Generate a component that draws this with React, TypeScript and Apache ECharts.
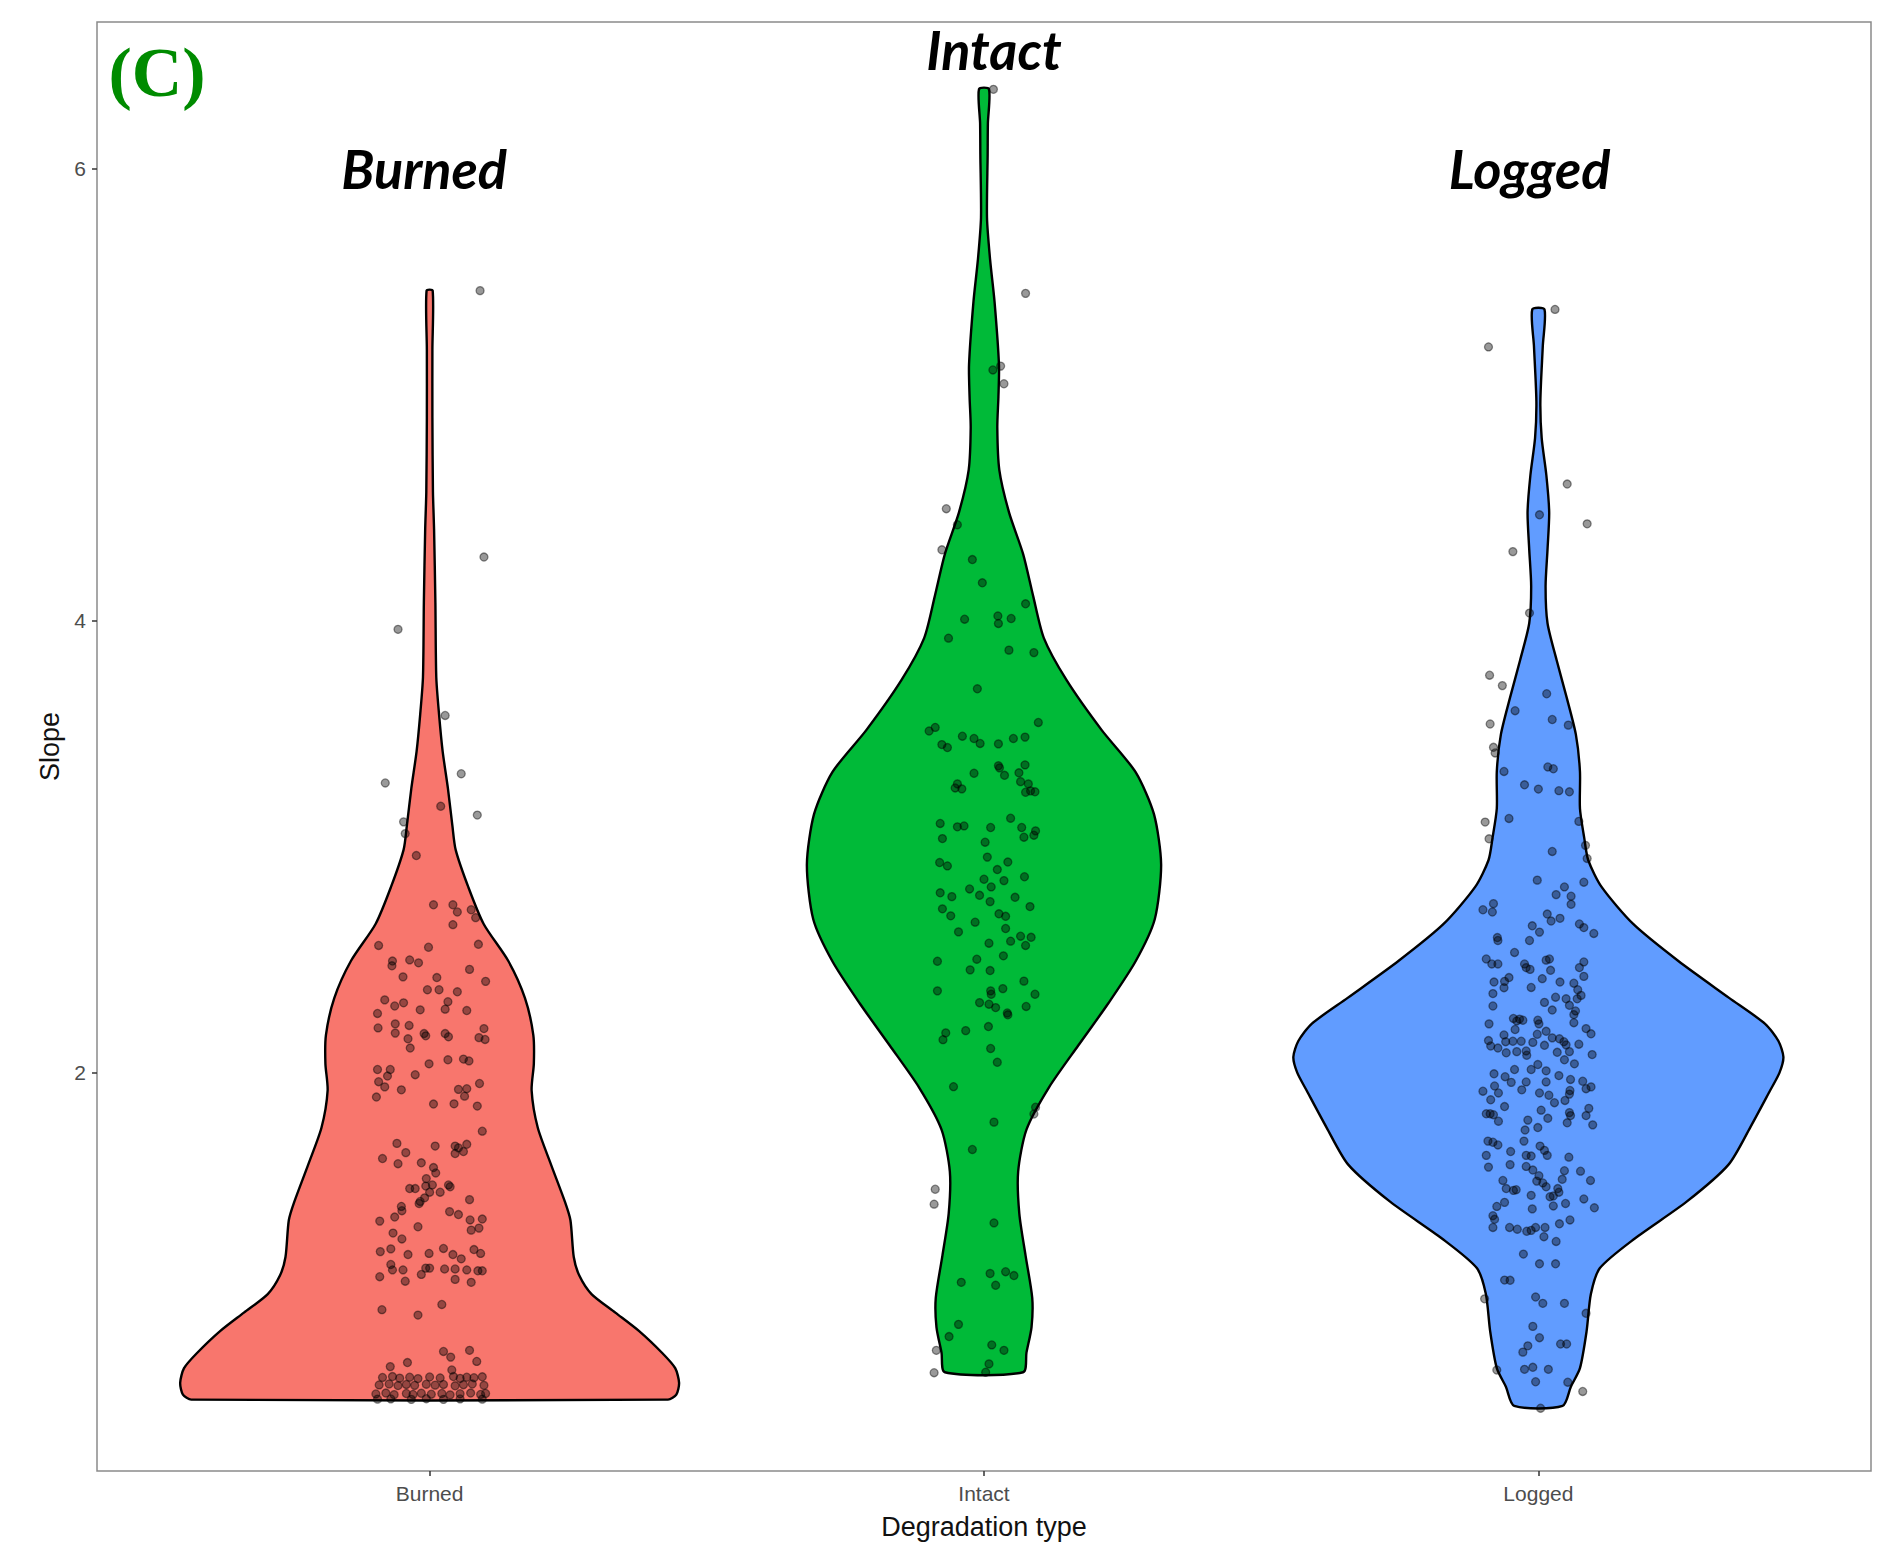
import React, { useEffect, useRef } from "react";
import * as echarts from "echarts";

// ---------- data ----------
const CATEGORIES = ["Burned", "Intact", "Logged"];
const Y_TICKS = [2, 4, 6];
const COLORS = ["#F8766D", "#00BA38", "#619CFF"];

// violin outlines: [slope, half-width in category units]
const VIOLIN_BURNED: [number, number][] = [
  [5.461, 0.0055], [5.2, 0.005], [4.9, 0.005], [4.57, 0.006], [4.406, 0.008], [4.08, 0.0104],
  [3.75, 0.012], [3.586, 0.017], [3.422, 0.0235], [3.258, 0.033], [3.094, 0.041], [2.986, 0.047],
  [2.82, 0.07], [2.658, 0.0975], [2.494, 0.142], [2.33, 0.172], [2.167, 0.187], [2.04, 0.188],
  [1.921, 0.184], [1.757, 0.195], [1.593, 0.219], [1.429, 0.244], [1.347, 0.254], [1.184, 0.26],
  [1.102, 0.27], [1.02, 0.292], [0.938, 0.335], [0.856, 0.378], [0.758, 0.42], [0.692, 0.443],
  [0.627, 0.45], [0.575, 0.445], [0.553, 0.43],
];
const VIOLIN_INTACT: [number, number][] = [
  [6.353, 0.009], [6.2, 0.007], [6.064, 0.0066], [5.785, 0.0054], [5.598, 0.011], [5.412, 0.019],
  [5.133, 0.027], [4.99, 0.026], [4.854, 0.024], [4.668, 0.0276], [4.481, 0.045], [4.295, 0.0706],
  [4.109, 0.0887], [3.923, 0.108], [3.737, 0.149], [3.517, 0.212], [3.33, 0.2735], [3.144, 0.3066],
  [2.921, 0.3195], [2.679, 0.308], [2.493, 0.2735], [2.306, 0.224], [2.12, 0.17], [1.934, 0.117],
  [1.748, 0.0766], [1.562, 0.0616], [1.376, 0.0637], [1.19, 0.075], [1.003, 0.087], [0.873, 0.0857],
  [0.761, 0.0766], [0.674, 0.0706],
];
const VIOLIN_LOGGED: [number, number][] = [
  [5.378, 0.011], [5.217, 0.008], [4.972, 0.0036], [4.808, 0.006], [4.644, 0.0144], [4.48, 0.0195],
  [4.316, 0.0165], [4.152, 0.013], [3.989, 0.0165], [3.825, 0.033], [3.661, 0.051], [3.497, 0.0676],
  [3.333, 0.075], [3.169, 0.075], [3.039, 0.0827], [2.94, 0.09], [2.822, 0.114], [2.658, 0.171],
  [2.494, 0.2525], [2.331, 0.344], [2.216, 0.409], [2.14, 0.433], [2.069, 0.442], [2.0, 0.435],
  [1.921, 0.418], [1.757, 0.382], [1.593, 0.343], [1.429, 0.2675], [1.266, 0.174], [1.135, 0.111],
  [1.02, 0.0947], [0.856, 0.087], [0.692, 0.075], [0.61, 0.0586], [0.525, 0.0436],
];

// jittered observations: [offset from category centre, slope]
const POINTS_BURNED: [number, number][] = [
  [0.091, 5.461], [0.098, 4.282], [-0.057, 3.962], [0.028, 3.581], [0.057, 3.323], [-0.08, 3.282],
  [0.02, 3.179], [0.086, 3.14], [-0.047, 3.11], [-0.044, 3.058],
  [-0.024, 2.961], [0.007, 2.743], [0.042, 2.743], [0.05, 2.711], [0.075, 2.721], [0.083, 2.686],
  [0.042, 2.655], [-0.092, 2.563], [-0.002, 2.555], [0.088, 2.568], [-0.067, 2.494], [-0.068, 2.473],
  [-0.036, 2.499], [-0.02, 2.486], [0.072, 2.457], [-0.048, 2.424], [0.013, 2.421], [0.101, 2.404],
  [-0.004, 2.367], [0.017, 2.367], [0.05, 2.358], [-0.081, 2.322], [-0.063, 2.295], [-0.047, 2.309],
  [-0.017, 2.278], [0.033, 2.314], [0.028, 2.281], [0.067, 2.275], [-0.094, 2.262], [-0.093, 2.198],
  [-0.062, 2.216], [-0.062, 2.175], [-0.037, 2.209], [-0.039, 2.15], [-0.035, 2.109], [-0.01, 2.173],
  [-0.007, 2.163], [0.028, 2.173], [0.034, 2.159], [0.089, 2.155], [0.098, 2.195], [0.1, 2.147],
  [-0.001, 2.039], [0.033, 2.057], [0.061, 2.06], [0.071, 2.052], [-0.094, 2.014], [-0.071, 2.014],
  [-0.092, 1.96], [-0.076, 1.985], [-0.081, 1.937], [-0.096, 1.892], [-0.026, 1.991], [-0.051, 1.924],
  [0.052, 1.926], [0.067, 1.929], [0.063, 1.896], [0.09, 1.952], [0.007, 1.861], [0.044, 1.862],
  [0.086, 1.852], [0.095, 1.741], [-0.059, 1.687], [-0.043, 1.646], [-0.085, 1.62], [-0.057, 1.597],
  [0.01, 1.675], [0.046, 1.675], [0.052, 1.667], [0.067, 1.683], [0.046, 1.642], [0.061, 1.651],
  [-0.015, 1.601], [0.007, 1.58], [0.011, 1.556], [-0.006, 1.531], [-0.007, 1.498], [-0.036, 1.487],
  [-0.026, 1.487], [0.005, 1.503], [0.0, 1.471], [0.019, 1.471], [0.037, 1.495], [0.034, 1.503],
  [-0.017, 1.43], [-0.019, 1.421], [-0.009, 1.446], [0.072, 1.438], [-0.051, 1.408], [-0.05, 1.389],
  [-0.063, 1.361], [0.036, 1.385], [0.052, 1.372], [-0.09, 1.343], [-0.021, 1.318], [0.073, 1.348],
  [0.095, 1.352], [0.075, 1.303], [0.089, 1.312], [-0.066, 1.29], [-0.05, 1.264], [-0.089, 1.208],
  [-0.07, 1.22], [-0.039, 1.195], [-0.001, 1.2], [0.025, 1.222], [0.042, 1.195], [0.057, 1.176],
  [0.08, 1.217], [0.092, 1.2], [-0.09, 1.097], [-0.07, 1.151], [-0.067, 1.127], [-0.048, 1.127],
  [-0.044, 1.077], [-0.015, 1.107], [-0.007, 1.135], [0.0, 1.135], [0.027, 1.131], [0.046, 1.131],
  [0.046, 1.085], [0.067, 1.127], [0.087, 1.123], [0.095, 1.123], [0.075, 1.072], [-0.086, 0.951],
  [-0.021, 0.927], [0.022, 0.974], [0.025, 0.766], [0.038, 0.741], [0.072, 0.771], [0.085, 0.722],
  [-0.071, 0.699], [-0.04, 0.717], [0.04, 0.684],
  [-0.085, 0.651], [-0.067, 0.655], [-0.054, 0.648], [-0.036, 0.652], [-0.021, 0.646], [0.0, 0.653],
  [0.019, 0.649], [0.043, 0.655], [0.055, 0.647], [0.067, 0.652], [0.08, 0.65], [0.095, 0.654],
  [-0.091, 0.618], [-0.073, 0.622], [-0.057, 0.615], [-0.042, 0.62], [-0.027, 0.616], [-0.006, 0.621],
  [0.01, 0.617], [0.025, 0.62], [0.046, 0.614], [0.061, 0.619], [0.077, 0.622], [0.098, 0.616],
  [-0.097, 0.578], [-0.079, 0.582], [-0.064, 0.575], [-0.042, 0.58], [-0.03, 0.576], [-0.015, 0.581],
  [0.003, 0.577], [0.022, 0.58], [0.037, 0.574], [0.055, 0.579], [0.074, 0.582], [0.092, 0.576],
  [0.101, 0.58], [-0.094, 0.555], [-0.07, 0.556], [-0.033, 0.554], [-0.006, 0.557], [0.025, 0.554],
  [0.055, 0.556], [0.095, 0.555],
];

const POINTS_INTACT: [number, number][] = [
  [0.017, 6.352], [0.075, 5.449], [0.016, 5.11], [0.03, 5.127], [0.036, 5.049], [-0.068, 4.496],
  [-0.048, 4.425], [-0.076, 4.314], [-0.021, 4.271], [-0.003, 4.168], [0.075, 4.075], [-0.035, 4.007],
  [0.025, 4.021], [0.026, 3.988], [0.049, 4.01], [-0.064, 3.923], [0.045, 3.87], [0.09, 3.859],
  [-0.012, 3.699], [0.098, 3.55], [-0.088, 3.528], [-0.099, 3.512],
  [-0.076, 3.452], [-0.066, 3.439], [-0.039, 3.489], [-0.018, 3.479], [-0.007, 3.457], [0.026, 3.455],
  [0.053, 3.479], [0.074, 3.485], [0.026, 3.358], [0.028, 3.349], [0.074, 3.362], [-0.018, 3.325],
  [0.037, 3.316], [0.063, 3.327], [-0.048, 3.278], [-0.052, 3.26], [-0.04, 3.256], [0.066, 3.288],
  [0.08, 3.278], [0.075, 3.241], [0.084, 3.247], [0.092, 3.243], [-0.079, 3.103], [-0.075, 3.036],
  [-0.048, 3.088], [-0.036, 3.092], [0.012, 3.085], [0.048, 3.126], [0.068, 3.085], [0.072, 3.042],
  [0.093, 3.07], [0.09, 3.051], [0.002, 3.02], [0.006, 2.954], [-0.08, 2.93], [-0.066, 2.915],
  [0.024, 2.899], [0.043, 2.932], [0.0, 2.856], [0.013, 2.822], [0.036, 2.85], [0.073, 2.867],
  [-0.079, 2.796], [-0.058, 2.779], [-0.026, 2.813], [-0.008, 2.785], [0.011, 2.757], [0.056, 2.776],
  [0.083, 2.735], [-0.075, 2.725], [-0.06, 2.694], [-0.016, 2.666], [0.027, 2.703], [0.039, 2.692],
  [-0.046, 2.623], [0.039, 2.638], [0.009, 2.573], [0.048, 2.582], [0.066, 2.604], [0.075, 2.563],
  [0.085, 2.599], [-0.084, 2.493], [-0.013, 2.502], [0.035, 2.517], [-0.025, 2.455], [0.011, 2.452],
  [-0.084, 2.362], [0.012, 2.362], [0.013, 2.347], [0.034, 2.372], [0.072, 2.405], [0.092, 2.347],
  [-0.008, 2.31], [0.009, 2.303], [0.021, 2.288], [0.042, 2.264], [0.043, 2.256], [0.076, 2.293],
  [-0.069, 2.176], [-0.074, 2.146], [-0.033, 2.186], [0.008, 2.204], [0.012, 2.107], [0.024, 2.046],
  [-0.055, 1.938], [0.093, 1.847], [0.09, 1.817], [0.018, 1.781], [-0.021, 1.66], [-0.088, 1.484],
  [-0.09, 1.418], [0.018, 1.335], [-0.041, 1.072], [0.011, 1.111], [0.039, 1.119], [0.054, 1.102],
  [0.021, 1.059], [-0.046, 0.886], [-0.063, 0.832], [0.014, 0.795], [0.036, 0.771], [-0.086, 0.771],
  [0.009, 0.711], [-0.09, 0.672], [0.003, 0.674],
];

const POINTS_LOGGED: [number, number][] = [
  [0.03, 5.378], [-0.09, 5.212], [0.052, 4.605], [0.002, 4.469], [0.088, 4.429], [-0.046, 4.306],
  [-0.016, 4.034], [-0.088, 3.759], [-0.065, 3.713], [0.015, 3.677], [-0.042, 3.602], [0.025, 3.563],
  [0.054, 3.538], [-0.087, 3.543], [-0.081, 3.44], [-0.078, 3.415], [0.017, 3.353], [0.027, 3.345],
  [-0.062, 3.333], [-0.025, 3.274], [0.0, 3.255], [0.037, 3.248], [0.056, 3.243], [-0.096, 3.109],
  [-0.053, 3.125], [0.073, 3.112], [-0.089, 3.035], [0.085, 3.006], [0.025, 2.979], [0.088, 2.948],
  [0.082, 2.843], [-0.002, 2.852], [0.047, 2.822], [0.032, 2.788], [0.059, 2.781], [0.059, 2.745],
  [-0.081, 2.748], [-0.1, 2.721], [-0.083, 2.711], [0.016, 2.702], [0.023, 2.671], [0.039, 2.683],
  [-0.011, 2.65], [0.002, 2.622], [0.074, 2.658], [0.082, 2.642], [0.1, 2.616], [-0.074, 2.598],
  [-0.073, 2.585], [-0.016, 2.585], [-0.043, 2.532], [-0.094, 2.503], [-0.084, 2.481], [-0.073, 2.481],
  [-0.025, 2.481], [-0.022, 2.465], [-0.015, 2.457], [0.014, 2.498], [0.02, 2.503], [0.022, 2.453],
  [0.082, 2.49], [0.074, 2.465], [0.082, 2.426], [-0.053, 2.421], [-0.061, 2.404], [-0.08, 2.401],
  [-0.062, 2.376], [-0.082, 2.35], [0.007, 2.416], [-0.013, 2.377], [0.039, 2.401], [0.064, 2.396],
  [0.071, 2.367], [0.077, 2.342], [0.031, 2.334], [0.05, 2.327], [0.07, 2.327], [-0.082, 2.295],
  [0.011, 2.311], [0.025, 2.277], [0.056, 2.298], [0.067, 2.273], [0.064, 2.257], [-0.089, 2.216],
  [-0.045, 2.24], [-0.039, 2.229], [-0.034, 2.237], [-0.028, 2.232], [-0.042, 2.191], [-0.001, 2.232],
  [0.001, 2.216], [0.014, 2.183], [0.064, 2.221], [0.086, 2.195], [0.095, 2.172], [-0.062, 2.167],
  [-0.09, 2.142], [-0.086, 2.118], [-0.073, 2.109], [-0.059, 2.137], [-0.058, 2.088], [-0.046, 2.139],
  [-0.039, 2.093], [-0.031, 2.139], [-0.022, 2.096], [-0.021, 2.077], [-0.01, 2.134], [-0.002, 2.17],
  [0.011, 2.121], [0.025, 2.154], [0.038, 2.15], [0.046, 2.137], [0.05, 2.123], [0.056, 2.093],
  [0.034, 2.09], [0.073, 2.126], [0.097, 2.08], [0.047, 2.057], [0.065, 2.039], [-0.08, 1.995],
  [-0.043, 2.014], [-0.013, 2.014], [-0.001, 2.036], [0.014, 2.008], [0.037, 1.987], [0.058, 1.97],
  [-0.06, 1.982], [-0.049, 1.957], [-0.022, 1.959], [0.014, 1.959], [0.08, 1.962], [0.095, 1.937],
  [0.086, 1.929], [-0.1, 1.918], [-0.079, 1.941], [-0.072, 1.91], [-0.086, 1.88], [-0.03, 1.924],
  [0.002, 1.91], [0.019, 1.9], [0.029, 1.867], [0.048, 1.877], [0.056, 1.905], [0.057, 1.921],
  [-0.061, 1.85], [-0.094, 1.818], [-0.087, 1.818], [-0.081, 1.814], [-0.072, 1.785], [0.005, 1.834],
  [0.017, 1.798], [0.056, 1.823], [0.058, 1.81], [0.052, 1.778], [0.091, 1.842], [0.086, 1.81],
  [0.098, 1.769], [-0.019, 1.79], [-0.024, 1.746], [-0.001, 1.757], [-0.026, 1.697], [-0.091, 1.697],
  [-0.082, 1.692], [-0.073, 1.68], [-0.05, 1.651], [-0.094, 1.634], [-0.09, 1.582], [-0.051, 1.593],
  [-0.022, 1.634], [-0.013, 1.631], [0.003, 1.675], [0.011, 1.656], [0.016, 1.634], [-0.022, 1.585],
  [-0.01, 1.569], [0.001, 1.544], [0.008, 1.512], [-0.003, 1.52], [0.055, 1.626], [0.047, 1.566],
  [0.076, 1.564], [0.043, 1.528], [0.094, 1.523], [-0.064, 1.523], [-0.058, 1.487], [-0.045, 1.479],
  [-0.04, 1.482], [0.014, 1.495], [0.035, 1.487], [0.037, 1.471], [0.021, 1.451], [0.027, 1.454],
  [-0.013, 1.457], [-0.061, 1.426], [-0.075, 1.408], [-0.082, 1.367], [-0.079, 1.351], [-0.082, 1.315],
  [-0.011, 1.397], [0.027, 1.41], [0.049, 1.421], [0.082, 1.441], [0.101, 1.402], [-0.052, 1.315],
  [-0.038, 1.307], [-0.021, 1.298], [-0.013, 1.302], [-0.005, 1.315], [0.012, 1.315], [0.01, 1.274],
  [0.038, 1.331], [0.057, 1.348], [0.032, 1.253], [-0.027, 1.197], [0.002, 1.154], [0.031, 1.154],
  [-0.061, 1.082], [-0.051, 1.081], [-0.097, 0.999], [-0.005, 1.007], [0.008, 0.979], [0.047, 0.979],
  [0.086, 0.935], [-0.01, 0.877], [0.002, 0.827], [-0.019, 0.791], [-0.028, 0.763], [0.04, 0.799],
  [0.051, 0.799], [-0.075, 0.684], [-0.025, 0.687], [-0.01, 0.696], [0.018, 0.687], [-0.005, 0.632],
  [0.053, 0.63], [0.08, 0.589], [0.004, 0.515],
];

const VIOLINS = [VIOLIN_BURNED, VIOLIN_INTACT, VIOLIN_LOGGED];
const POINTS = [POINTS_BURNED, POINTS_INTACT, POINTS_LOGGED];

// ---------- chart ----------
function buildOption() {
  const sans = "'Liberation Sans', Arial, sans-serif";
  const violinSeries = VIOLINS.map((outline, i) => ({
    type: "custom",
    name: CATEGORIES[i],
    coordinateSystem: "cartesian2d",
    data: [[i + 1, 3]],
    silent: true,
    z: 1,
    renderItem: (_params: any, api: any) => {
      const cx = i + 1;
      const left = outline.map(([v, hw]) => api.coord([cx - hw, v]));
      const right = outline
        .slice()
        .reverse()
        .map(([v, hw]) => api.coord([cx + hw, v]));
      return {
        type: "polygon",
        shape: { points: [...left, ...right], smooth: 0.25 },
        style: { fill: COLORS[i], stroke: "#000", lineWidth: 2.4 },
      };
    },
  }));

  const pointData: number[][] = [];
  POINTS.forEach((pts, i) => pts.forEach(([o, v]) => pointData.push([i + 1 + o, v])));

  // label anchor positions (data coordinates)
  const labelAnchors = [
    [0.99, 6.0],
    [2.018, 6.527],
    [2.984, 6.0],
  ];

  return {
    animation: false,
    backgroundColor: "#fff",
    grid: {
      left: 97,
      right: 17,
      top: 22,
      bottom: 73,
      show: true,
      borderColor: "#8a8a8a",
      borderWidth: 1.5,
      backgroundColor: "transparent",
    },
    xAxis: {
      type: "value",
      min: 0.4,
      max: 3.6,
      name: "Degradation type",
      nameLocation: "middle",
      nameGap: 42,
      nameTextStyle: { fontSize: 27, color: "#111", fontFamily: sans },
      axisLine: { show: false },
      splitLine: { show: false },
      axisTick: {
        show: true,
        customValues: [1, 2, 3],
        length: 5,
        lineStyle: { color: "#333", width: 1.5 },
      },
      axisLabel: {
        customValues: [1, 2, 3],
        formatter: (v: number) => CATEGORIES[Math.round(v) - 1] ?? "",
        fontSize: 21,
        color: "#4d4d4d",
        fontFamily: sans,
        margin: 12,
      },
    },
    yAxis: {
      type: "value",
      min: 0.237,
      max: 6.65,
      name: "Slope",
      nameLocation: "middle",
      nameGap: 34,
      nameTextStyle: { fontSize: 27, color: "#111", fontFamily: sans },
      axisLine: { show: false },
      splitLine: { show: false },
      axisTick: {
        show: true,
        customValues: Y_TICKS,
        length: 5,
        lineStyle: { color: "#333", width: 1.5 },
      },
      axisLabel: {
        customValues: Y_TICKS,
        fontSize: 21,
        color: "#4d4d4d",
        fontFamily: sans,
        margin: 11,
      },
    },
    graphic: [
      {
        type: "text",
        x: 157,
        y: 72,
        style: {
          text: "(C)",
          fill: "#008B00",
          font: "bold 70px 'Liberation Serif', 'Times New Roman', serif",
          align: "center",
          verticalAlign: "middle",
        },
        z: 10,
      },
    ],
    series: [
      ...violinSeries,
      {
        type: "scatter",
        name: "obs",
        data: pointData,
        symbol: "circle",
        symbolSize: 8,
        itemStyle: {
          color: "rgba(0,0,0,0.5)",
          borderColor: "rgba(0,0,0,0.55)",
          borderWidth: 1.3,
        },
        silent: true,
        z: 3,
      },
      {
        type: "scatter",
        name: "labels",
        data: CATEGORIES.map((c, i) => ({ name: c, value: labelAnchors[i] })),
        symbolSize: 1,
        itemStyle: { color: "rgba(0,0,0,0)" },
        silent: true,
        z: 5,
        label: {
          show: true,
          position: "inside",
          formatter: "{b}",
          fontSize: 54,
          fontWeight: "bold",
          fontStyle: "italic",
          fontFamily: "Lato, 'Open Sans', sans-serif",
          color: "#000000",
          textBorderWidth: 0,
          textBorderColor: "transparent",
          opacity: 1,
        },
      },
    ],
  };
}

export default function App() {
  const ref = useRef<HTMLDivElement>(null);
  useEffect(() => {
    document.body.style.margin = "0";
    if (!ref.current) return;
    const chart = echarts.init(ref.current, undefined, { renderer: "svg" });
    chart.setOption(buildOption() as any);
    return () => chart.dispose();
  }, []);
  return <div ref={ref} style={{ width: 1888, height: 1545 }} />;
}
